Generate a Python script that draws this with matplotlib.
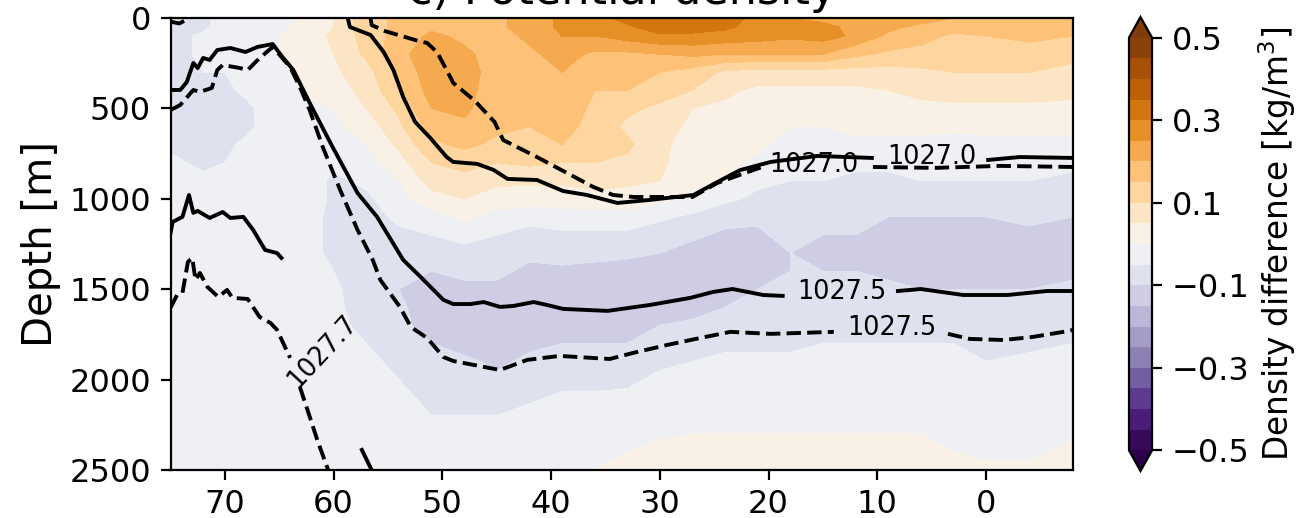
import numpy as np
import matplotlib
matplotlib.use("Agg")
import matplotlib.pyplot as plt

# grid the difference field is read on
depths = [0, 50, 100, 200, 300, 400, 500, 600, 700, 800, 900, 1000, 1100, 1200, 1300,
          1400, 1500, 1600, 1700, 1800, 1900, 2000, 2200, 2400, 2500]
lats = [75, 72, 70, 68, 65, 62, 60, 57, 54, 51, 48, 45, 42, 39, 36, 33, 30, 27, 24, 21,
        18, 15, 12, 9, 6, 3, 0, -4, -8]

# density difference per latitude, top to bottom, in 0.01 kg/m3
diff_cols = [
    [-7, -7, -7, -7, -7, -7, -7, -6, -6, -4, -3, -3, -3, -3, -3, -3, -3, -3, -2, -2, -2, -2, -2, -2, -2],
    [-6, -6, -4, -4, -5, -6, -7, -7, -6, -6, -4, -3, -3, -3, -3, -3, -3, -2, -2, -2, -2, -2, -2, -2, -2],
    [-3, -3, -4, -4, -5, -6, -7, -6, -6, -5, -3, -3, -3, -3, -3, -3, -3, -2, -2, -2, -2, -2, -2, -2, -2],
    [-2, -2, -2, -3, -3, -4, -6, -6, -4, -3, -3, -3, -3, -3, -3, -3, -3, -2, -2, -2, -2, -2, -2, -2, -2],
    [-2, -1, 0, 0, -1, -2, -2, -2, -2, -2, -2, -2, -2, -2, -2, -2, -2, -2, -2, -2, -2, -2, -2, -2, -2],
    [1, 2, 3, 3, 2, 1, -1, -2, -2, -3, -3, -3, -4, -4, -4, -3, -3, -3, -3, -3, -3, -3, -2, -2, -2],
    [5, 5, 6, 5, 4, 2, 0, -1, -3, -4, -6, -6, -6, -6, -6, -5, -4, -4, -4, -3, -3, -3, -2, -2, -2],
    [13, 13, 12, 11, 8, 7, 5, 2, 0, -2, -4, -6, -7, -8, -8, -8, -8, -7, -6, -5, -4, -3, -3, -2, -2],
    [16, 16, 17, 19, 16, 14, 11, 9, 6, 3, 0, -2, -4, -6, -8, -10, -10, -9, -8, -7, -6, -5, -4, -3, -2],
    [18, 19, 21, 22, 23, 22, 20, 17, 14, 10, 7, 3, -2, -5, -7, -10, -12, -13, -13, -10, -9, -8, -5, -3, -2],
    [18, 18, 19, 21, 22, 22, 21, 19, 16, 12, 8, 5, 1, -3, -7, -9, -11, -12, -13, -12, -9, -8, -5, -3, -2],
    [19, 19, 18, 18, 18, 17, 17, 16, 14, 10, 6, 3, -2, -5, -7, -9, -11, -12, -13, -13, -11, -9, -5, -3, -2],
    [22, 22, 21, 19, 18, 17, 16, 15, 13, 11, 6, 2, -3, -7, -9, -11, -12, -13, -13, -11, -9, -7, -4, -2, -2],
    [26, 26, 25, 22, 20, 19, 18, 17, 15, 10, 6, 2, -2, -6, -8, -11, -12, -13, -11, -10, -8, -6, -3, -2, -1],
    [28, 27, 25, 19, 17, 15, 14, 13, 11, 10, 7, 3, -2, -6, -9, -11, -13, -13, -12, -10, -8, -6, -3, -1, 0],
    [32, 29, 27, 19, 17, 15, 11, 9, 11, 9, 6, 3, -2, -6, -9, -12, -13, -13, -12, -10, -8, -6, -2, 0, 1],
    [35, 33, 29, 20, 15, 12, 9, 7, 6, 6, 5, 1, -4, -8, -10, -12, -13, -13, -10, -9, -6, -4, -2, 1, 2],
    [35, 32, 29, 21, 13, 10, 5, 4, 3, 2, 1, -1, -6, -9, -12, -13, -13, -12, -9, -7, -5, -4, -1, 1, 2],
    [33, 31, 28, 20, 9, 6, 4, 3, 2, 1, 0, -4, -8, -11, -12, -13, -12, -10, -8, -6, -4, -3, -1, 1, 2],
    [28, 28, 27, 20, 8, 4, 3, 2, 1, -1, -4, -6, -9, -11, -11, -11, -10, -8, -7, -6, -4, -3, -1, 1, 1],
    [25, 25, 26, 20, 8, 4, 2, 0, -2, -4, -5, -6, -7, -8, -10, -10, -9, -8, -7, -6, -4, -3, -1, 1, 1],
    [24, 26, 27, 20, 8, 4, 3, 0, -2, -3, -5, -7, -8, -10, -12, -10, -9, -8, -7, -5, -4, -3, -1, 1, 1],
    [24, 24, 24, 16, 8, 4, 3, 1, -1, -4, -6, -7, -8, -10, -12, -10, -9, -8, -7, -5, -4, -3, -1, 1, 1],
    [24, 21, 19, 14, 8, 5, 3, 1, -1, -4, -6, -8, -10, -11, -12, -11, -9, -8, -6, -5, -4, -3, -1, 1, 1],
    [22, 19, 17, 13, 9, 6, 4, 1, -1, -3, -5, -8, -10, -11, -12, -11, -10, -8, -7, -5, -4, -3, -1, 1, 1],
    [20, 17, 14, 12, 10, 7, 4, 1, -2, -3, -5, -7, -10, -11, -12, -11, -10, -8, -7, -5, -4, -3, -1, 0, 1],
    [19, 17, 15, 12, 10, 7, 4, 1, -1, -3, -5, -8, -10, -11, -12, -11, -10, -8, -7, -6, -5, -3, -2, -1, 1],
    [19, 18, 16, 13, 10, 7, 4, 1, -1, -4, -5, -8, -9, -11, -12, -11, -10, -8, -7, -6, -4, -3, -2, -1, 1],
    [18, 16, 15, 11, 9, 6, 4, 1, -1, -4, -6, -8, -10, -11, -12, -11, -9, -8, -7, -5, -4, -3, -2, 1, 2],
]

levels = np.arange(-0.5, 0.51, 0.05)

# isopycnals (lat, depth)
s5_lat = [75, 74.1, 73.5, 72.9, 72.5, 72.0, 71.4, 70.7, 69.5, 68.1, 67.0, 65.6, 64.7, 63.7, 62.2, 60.1, 57.8, 56.0,
          53.6, 52.0, 49.9, 49.0, 47.4, 46.2, 44.7, 43.5, 41.6, 40.4, 38.9, 34.8, 30.9, 27.2, 25.1, 23.3, 20.5, 18.7]
s5_dep = [398, 398, 354, 249, 277, 221, 232, 177, 166, 188, 160, 144, 216, 288, 470, 713, 968, 1100,
          1338, 1432, 1559, 1582, 1582, 1571, 1598, 1593, 1571, 1587, 1609, 1620, 1587, 1548, 1515, 1499, 1532, 1537]
s5b_lat = [8.1, 6.0, 2.1, -2.0, -5.6, -8]
s5b_dep = [1510, 1499, 1532, 1532, 1510, 1510]

d5_lat = [75, 74.1, 72.9, 72.3, 71.2, 70.7, 70.2, 68.6, 67.9, 66.8, 65.6, 64.0, 63.1, 62.2, 61.0, 59.4, 57.8, 56.4,
          55.7, 53.9, 52.9, 51.4, 49.9, 49.0, 44.7, 42.2, 39.2, 34.6, 32.5, 29.3, 26.3, 23.5, 19.8, 14.0]
d5_dep = [509, 481, 398, 409, 387, 288, 260, 277, 288, 221, 160, 271, 382, 509, 713, 951, 1172, 1338,
          1449, 1598, 1709, 1770, 1875, 1897, 1947, 1891, 1869, 1886, 1853, 1808, 1770, 1736, 1747, 1736]
d5b_lat = [3.5, 1.5, -1.6, -4.3, -7.6, -8]
d5b_dep = [1747, 1775, 1781, 1764, 1731, 1725]

s0_lat = [58.7, 58.5, 56.6, 55.4, 54.5, 53.6, 52.5, 51.1, 49.6, 49.0, 46.8, 45.3, 44.0, 41.3, 38.9, 36.7, 33.9, 30.9,
          26.9, 24.7, 22.6, 19.8, 15.5, 10.5]
s0_dep = [0, 50, 94, 188, 288, 437, 575, 664, 769, 796, 807, 840, 890, 896, 957, 979, 1023, 1006,
          979, 907, 841, 796, 763, 774]
s0b_lat = [-0.2, -3.1, -8]
s0b_dep = [785, 769, 774]

d0_lat = [56.6, 56.5, 55.3, 52.2, 51.4, 50.5, 49.6, 49.0, 47.0, 45.2, 44.4, 41.3, 36.1, 34.3, 32.4, 27.0, 24.7, 21.4, 20.3]
d0_dep = [0, 39, 72, 127, 138, 188, 288, 359, 459, 575, 675, 769, 935, 979, 990, 990, 912, 841, 818]
d0b_lat = [10.4, 4.7, -1.3, -8]
d0b_dep = [824, 829, 818, 824]

s7_lat = [75, 74.8, 73.9, 73.3, 72.9, 72.5, 71.4, 70.2, 69.5, 68.3, 67.4, 66.3, 65.2, 64.8]
s7_dep = [1189, 1128, 1100, 979, 1078, 1067, 1106, 1073, 1106, 1100, 1172, 1283, 1300, 1327]
s7b_lat = [57.4, 56.5]
s7b_dep = [2389, 2500]

d7_lat = [75, 74.4, 73.9, 73.4, 73.0, 72.7, 72.3, 71.6, 70.6, 69.8, 69.3, 67.9, 66.8, 65.8, 65.2, 64.0]
d7_dep = [1604, 1532, 1521, 1349, 1327, 1449, 1410, 1488, 1543, 1504, 1548, 1554, 1654, 1687, 1725, 1880]
d7b_lat = [63.1, 62.4, 61.5, 60.5]
d7b_dep = [2041, 2168, 2334, 2500]

top_lat = [75, 74.2, 73.7]
top_dep = [20, 30, 15]

W, H = 1301, 518
fig = plt.figure(figsize=(W / 200, H / 200), dpi=200)
ax = fig.add_axes([170.5 / W, (H - 470) / H, (1073 - 170.5) / W, 452 / H])

diff = np.array(diff_cols).T / 100
cf = ax.contourf(lats, depths, diff, levels=levels, cmap="PuOr_r", extend="both")

lw = 1.4
for x, y in [(s5_lat, s5_dep), (s5b_lat, s5b_dep), (s0_lat, s0_dep), (s0b_lat, s0b_dep),
             (s7_lat, s7_dep), (s7b_lat, s7b_dep)]:
    ax.plot(x, y, color="k", lw=lw)
for x, y in [(d5_lat, d5_dep), (d5b_lat, d5b_dep), (d0_lat, d0_dep), (d0b_lat, d0b_dep),
             (d7_lat, d7_dep), (d7b_lat, d7b_dep), (top_lat, top_dep)]:
    ax.plot(x, y, color="k", lw=lw, ls="--")

# contour labels
ax.text(13.3, 1515, "1027.5", fontsize=9.2, ha="center", va="center")
ax.text(8.7, 1714, "1027.5", fontsize=9.2, ha="center", va="center")
ax.text(5.0, 768, "1027.0", fontsize=9.2, ha="center", va="center")
ax.text(15.8, 813, "1027.0", fontsize=9.2, ha="center", va="center")
ax.text(61.0, 1847, "1027.7", fontsize=9.2, ha="center", va="center", rotation=47)

ax.set_xlim(75, -8)
ax.set_ylim(2500, 0)
ax.set_xticks([70, 60, 50, 40, 30, 20, 10, 0])
ax.set_yticks([0, 500, 1000, 1500, 2000, 2500])
ax.tick_params(labelsize=11.5)
ax.set_ylabel("Depth [m]", fontsize=14.5, labelpad=3)
ax.set_title("c) Potential density", fontsize=16, pad=5)

cax = fig.add_axes([1129 / W, (H - 471) / H, 23 / W, 454 / H])
cbar = fig.colorbar(cf, cax=cax, ticks=[-0.5, -0.3, -0.1, 0.1, 0.3, 0.5])
cbar.ax.tick_params(labelsize=11.5)
cbar.set_label("Density difference [kg/m$^3$]", fontsize=11.8, labelpad=2.5)

fig.savefig("out.png", dpi=200)
